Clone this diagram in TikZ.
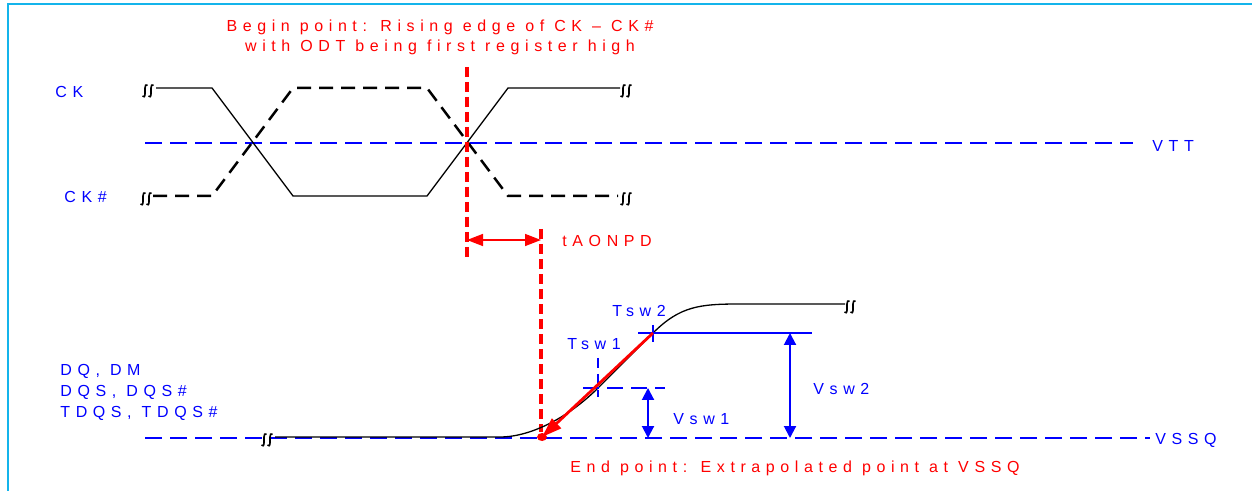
\documentclass[tikz,border=0pt]{standalone}
\usepackage{fontspec}
\setmainfont{Liberation Sans}[LetterSpace=35]
\usetikzlibrary{arrows.meta}
\definecolor{framec}{RGB}{20,180,235}
\definecolor{sigblue}{RGB}{0,0,255}
\definecolor{sigred}{RGB}{255,0,0}
\tikzset{
  brk/.pic={
    \foreach \dx in {0,6}{
      \draw[black, line width=0.8pt] (\dx+4.5,-6) .. controls (\dx+3,-7.5) and (\dx+2,-5) .. (\dx+2,-3) -- (\dx+2,3) .. controls (\dx+2,6) and (\dx+0.5,6.5) .. (\dx-0.5,5);
    }
  }
}
\begin{document}
\begin{tikzpicture}[x=0.5pt,y=-0.5pt,
  lbl/.style={font=\fontsize{8}{10.3}\selectfont, inner sep=0pt},
  bl/.style={lbl,text=sigblue},
  rd/.style={lbl,text=sigred},
  wave/.style={black, line width=0.65pt},
  wavedash/.style={black, line width=1.25pt, dash pattern=on 7pt off 4pt},
  refline/.style={sigblue, line width=1.25pt, dash pattern=on 8.5pt off 4pt},
  redv/.style={sigred, line width=1.6pt, dash pattern=on 5pt off 2.5pt},
  redarr/.style={sigred, line width=0.75pt, {Triangle[length=8pt,width=6pt]}-{Triangle[length=8pt,width=6pt]}},
  bluearr/.style={sigblue, line width=1pt, {Triangle[length=6pt,width=6pt]}-{Triangle[length=6pt,width=6pt]}},
]
\useasboundingbox (0,0) rectangle (1252,491);
% frame
\draw[framec, line width=1pt] (8,491) -- (8,4) -- (1252,4);

% labels
\node[rd, align=center] (begin) at (440,37.5) {Begin point: Rising edge of CK -- CK\#\\with ODT being first register high};
\node[bl, anchor=west] (ck) at (55,92) {CK};
\node[bl, anchor=west] (ckn) at (64,197) {CK\#};
\node[bl, anchor=west] (vtt) at (1152,146) {VTT};
\node[rd, anchor=west] (taon) at (562,241) {tAONPD};
\node[bl, anchor=west] (tsw2) at (612,311) {Tsw2};
\node[bl, anchor=west] (tsw1) at (567,344) {Tsw1};
\node[bl, anchor=west, align=left] (dq) at (60,392.5) {DQ, DM\\DQS, DQS\#\\TDQS, TDQS\#};
\node[bl, anchor=west] (vsw1) at (673,419) {Vsw1};
\node[bl, anchor=west] (vsw2) at (813,389) {Vsw2};
\node[bl, anchor=west] (vssq) at (1155,440) {VSSQ};
\node[rd, anchor=west] (endp) at (570,468) {End point: Extrapolated point at VSSQ};

% reference lines
\coordinate (vttL) at (145,143);
\coordinate (vttR) at (1133,143);
\draw[refline] (vttL) -- (vttR);
\coordinate (vssL) at (145,438);
\coordinate (vssR) at (1150,438);
\draw[refline] (vssL) -- (vssR);

% CK / CK#
\draw[wave] (156,88) -- (212,88) -- (293,196) -- (427,196) -- (508,88) -- (620,88);
\draw[wavedash] (153,196) -- (212,196) -- (293,88) -- (427,88) -- (508,196) -- (618,196);
\pic at (143,91) {brk};
\pic at (621,91) {brk};
\pic at (141,199) {brk};
\pic at (621,199) {brk};

% red verticals and tAONPD
\coordinate (b1t) at (467,67);
\coordinate (b1b) at (467,258);
\coordinate (b2t) at (541,229);
\coordinate (b2b) at (541,432);
\draw[redv] (b1t) -- (b1b);
\draw[redv] (b2t) -- (b2b);
\coordinate (ta) at (467,240);
\coordinate (tb) at (541,240);
\draw[redarr] (ta) -- (tb);

% DQ waveform
\coordinate (sw1) at (598,388);
\coordinate (sw2) at (653,333);
\draw[wave] (275,437) -- (500,437) .. controls (532,437) and (570,416) .. (sw1) -- (sw2) .. controls (680,306) and (700,304) .. (740,304) -- (845,304);
\pic at (262,440) {brk};
\pic at (845,307) {brk};

% Tsw markers
\draw[sigblue, line width=0.6pt] (638,333) -- (812,333);
\draw[sigblue, line width=0.8pt] (653,325) -- (653,342);
\draw[sigblue, line width=1.2pt, dash pattern=on 8pt off 4pt] (583,388) -- (665,388);
\draw[sigblue, line width=1.2pt, dash pattern=on 5pt off 3pt] (598,358) -- (598,397);

% Vsw arrows
\coordinate (v1t) at (648,388);
\coordinate (v1b) at (648,438);
\coordinate (v2t) at (790,333);
\coordinate (v2b) at (790,438);
\draw[bluearr] (v1t) -- (v1b);
\draw[bluearr] (v2t) -- (v2b);

% extrapolation
\coordinate (ep) at (542,437);
\draw[sigred, line width=1.4pt, -{Triangle[length=10pt,width=6.5pt]}] (sw2) -- (ep);
\fill[sigred] (ep) ellipse [x radius=5, y radius=4];
\end{tikzpicture}
\end{document}
